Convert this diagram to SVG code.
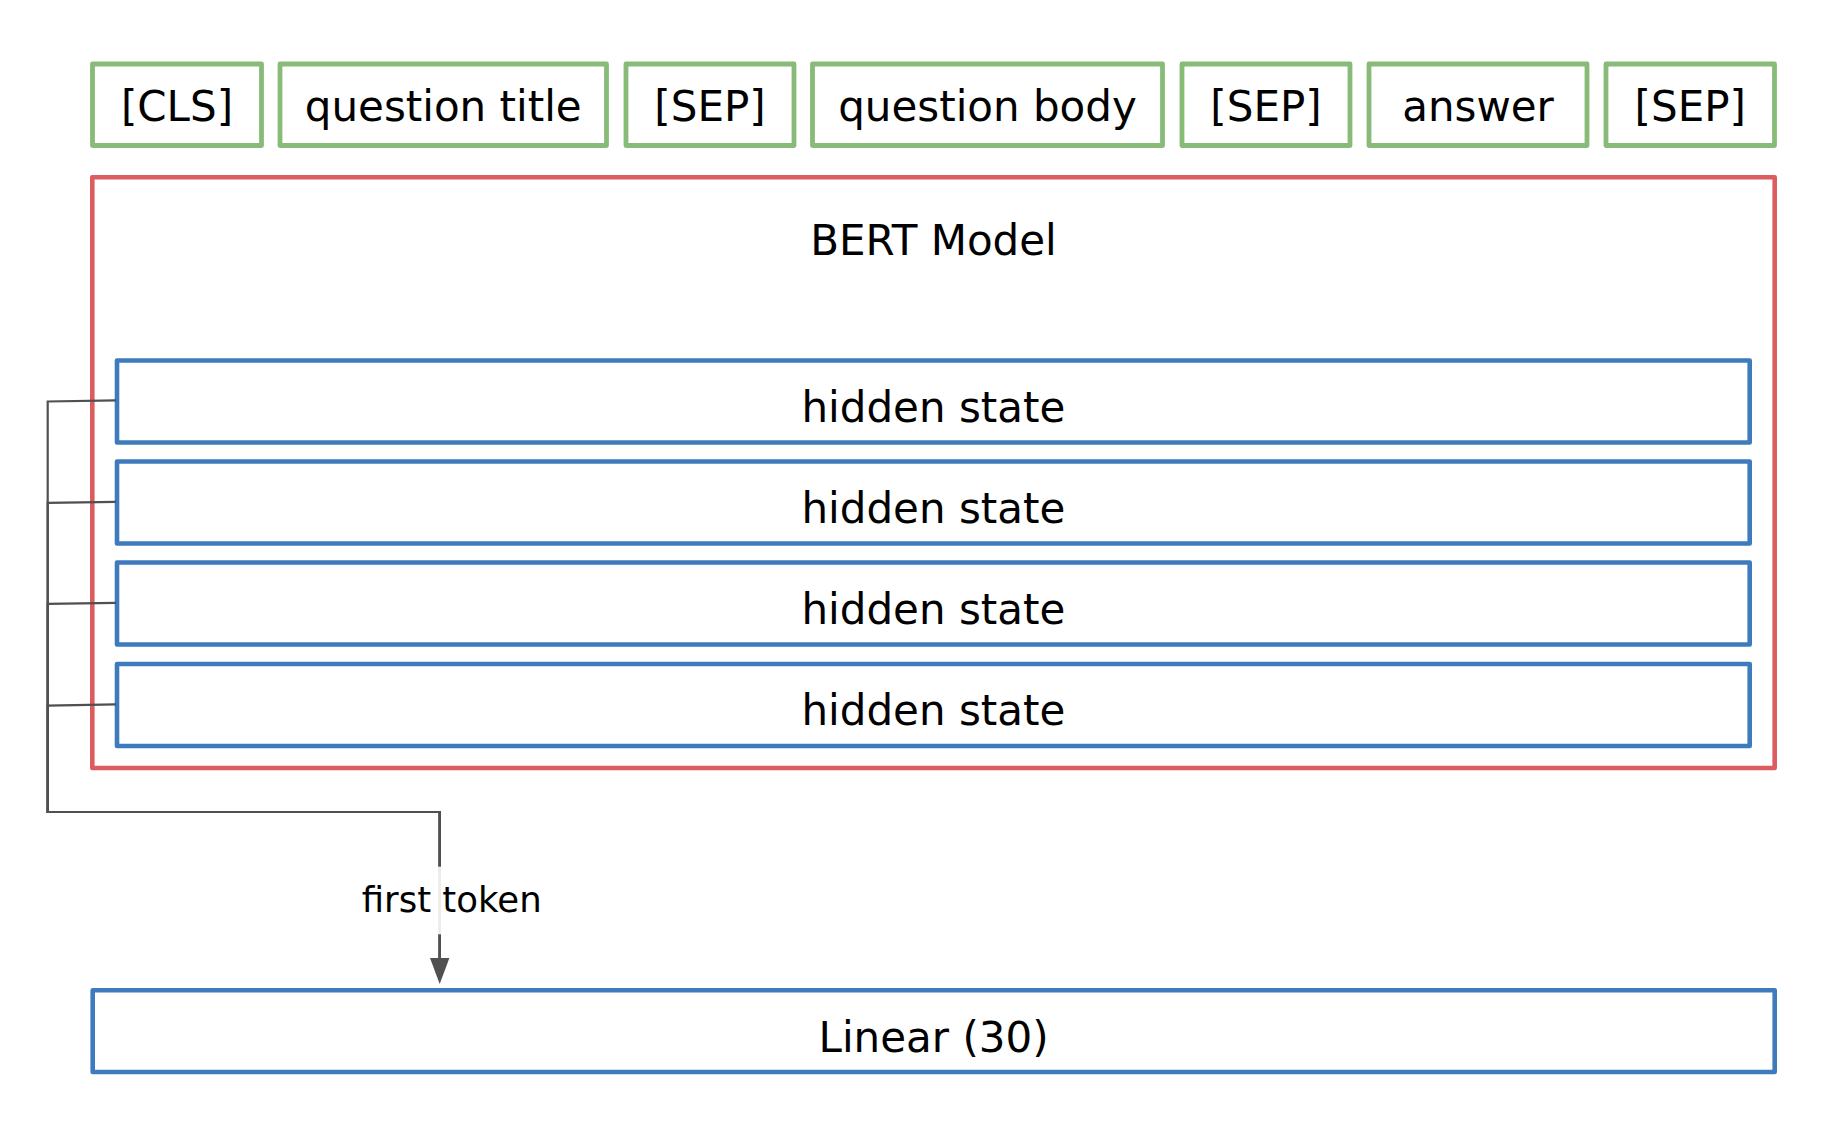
<svg xmlns="http://www.w3.org/2000/svg" width="1838" height="1140" viewBox="0 0 1838 1140">
  <defs>
    <style>
      .tok { fill: #ffffff; stroke: #87bb77; stroke-width: 4.8; stroke-linejoin: round; }
      .bert { fill: #ffffff; stroke: #db5d5f; stroke-width: 4.6; stroke-linejoin: round; }
      .blue { fill: #ffffff; stroke: #3e7bbd; stroke-width: 4.6; stroke-linejoin: round; }
      .lbl { font-family: "DejaVu Sans", Verdana, sans-serif; font-size: 42px; fill: #000000; text-anchor: middle; }
      .small { font-family: "DejaVu Sans", Verdana, sans-serif; font-size: 35.5px; fill: #000000; text-anchor: middle; }
      .edge { fill: none; stroke: #505050; stroke-width: 2.2; }
    </style>
  </defs>
  <rect width="1838" height="1140" fill="#ffffff"/>

  <g id="tokens">
    <g id="tok-cls">
      <rect class="tok" x="92.5" y="64" width="169" height="81.5"/>
      <text class="lbl" x="177" y="121">[CLS]</text>
    </g>
    <g id="tok-qtitle">
      <rect class="tok" x="280" y="64" width="326.5" height="81.5"/>
      <text class="lbl" x="443.25" y="121">question title</text>
    </g>
    <g id="tok-sep1">
      <rect class="tok" x="626" y="64" width="168" height="81.5"/>
      <text class="lbl" x="710" y="121">[SEP]</text>
    </g>
    <g id="tok-qbody">
      <rect class="tok" x="812.5" y="64" width="350" height="81.5"/>
      <text class="lbl" x="987.5" y="121">question body</text>
    </g>
    <g id="tok-sep2">
      <rect class="tok" x="1182" y="64" width="168" height="81.5"/>
      <text class="lbl" x="1266" y="121">[SEP]</text>
    </g>
    <g id="tok-answer">
      <rect class="tok" x="1369" y="64" width="218" height="81.5"/>
      <text class="lbl" x="1478" y="121">answer</text>
    </g>
    <g id="tok-sep3">
      <rect class="tok" x="1606" y="64" width="168.5" height="81.5"/>
      <text class="lbl" x="1690.25" y="121">[SEP]</text>
    </g>
  </g>

  <g id="bert">
    <rect class="bert" x="92.3" y="177.3" width="1682.4" height="590.7"/>
    <text class="lbl" x="933.5" y="255">BERT Model</text>
  </g>

  <g id="hidden1">
    <rect class="blue" x="117" y="360.5" width="1632.7" height="82"/>
    <text class="lbl" x="933.4" y="421.5">hidden state</text>
  </g>
  <g id="hidden2">
    <rect class="blue" x="117" y="461.5" width="1632.7" height="82"/>
    <text class="lbl" x="933.4" y="522.5">hidden state</text>
  </g>
  <g id="hidden3">
    <rect class="blue" x="117" y="562.5" width="1632.7" height="82"/>
    <text class="lbl" x="933.4" y="623.5">hidden state</text>
  </g>
  <g id="hidden4">
    <rect class="blue" x="117" y="664" width="1632.7" height="82"/>
    <text class="lbl" x="933.4" y="725">hidden state</text>
  </g>

  <g id="linear">
    <rect class="blue" x="92.7" y="990.3" width="1682" height="81.7"/>
    <text class="lbl" x="933.6" y="1051.5">Linear (30)</text>
  </g>

  <g id="connectors">
    <path class="edge" d="M116,400.3 L47.7,401.5 L47.7,812 L439.7,812 L439.7,958.5"/>
    <path class="edge" d="M116,501.8 L47.7,502.9 L47.7,812 L439.7,812 L439.7,958.5"/>
    <path class="edge" d="M116,602.8 L47.7,603.9 L47.7,812 L439.7,812 L439.7,958.5"/>
    <path class="edge" d="M116,704.3 L47.7,705.6 L47.7,812 L439.7,812 L439.7,958.5"/>
    <polygon points="430,958 449.4,958 439.7,984" fill="#505050"/>
    <g id="edge-label">
      <rect x="362" y="866.7" width="180" height="67.6" fill="#ffffff" fill-opacity="0.89"/>
      <text class="small" x="451.7" y="912">first token</text>
    </g>
  </g>
</svg>
